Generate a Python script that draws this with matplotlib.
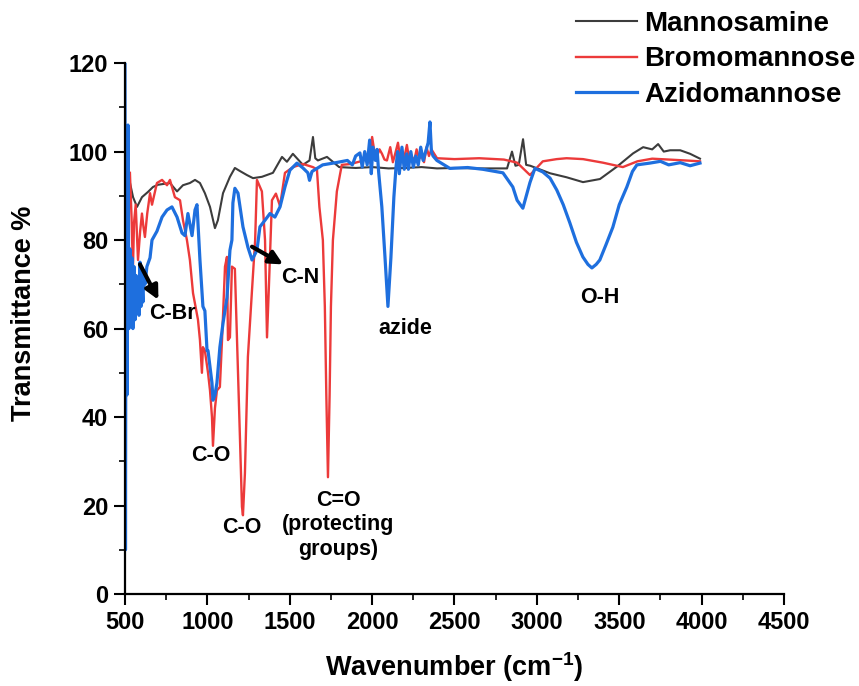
import numpy as np
import matplotlib.pyplot as plt
from matplotlib.ticker import MultipleLocator

plt.rcParams['font.family'] = ['Liberation Sans', 'DejaVu Sans']
plt.rcParams['font.weight'] = 'bold'
plt.rcParams['mathtext.fontset'] = 'custom'
plt.rcParams['mathtext.rm'] = 'Liberation Sans:bold'
plt.rcParams['mathtext.it'] = 'Liberation Sans:bold'
plt.rcParams['mathtext.default'] = 'regular'

# Mannosamine (grey)
mannosamine_wn = [530, 549, 573, 603, 640, 670, 700, 773, 816, 852, 894, 925, 955, 985,
                  1016, 1046, 1064, 1095, 1137, 1167, 1198, 1240, 1277, 1331, 1398, 1453,
                  1483, 1519, 1580, 1620, 1641, 1655, 1671, 1726, 1800, 1900, 2000, 2100,
                  2200, 2300, 2394, 2500, 2650, 2819, 2849, 2870, 2890, 2916, 2935, 2960,
                  3080, 3180, 3280, 3383, 3486, 3584, 3645, 3700, 3736, 3770, 3809, 3870,
                  3930, 3990]
mannosamine_T = [93, 89.7, 87.5, 89.7, 90.9, 92, 92.5, 92.9, 91, 92.4, 92.9, 93.6, 92.9, 90.6,
                 87.5, 82.7, 84.5, 90.6, 94.3, 96.3, 95.6, 94.7, 94, 94.3, 95.2, 98.8,
                 97.7, 99.5, 97, 98, 103.3, 98.5, 98, 98.8, 96.5, 96.3, 96.5, 96.2,
                 96.3, 96.5, 96.2, 96.3, 96.2, 96.2, 100, 96.8, 97, 102.8, 97, 96.8,
                 95.1, 94.2, 93.1, 93.8, 96.6, 99.6, 101, 100.5, 101.7, 100, 100.3, 100.3,
                 99.5, 98.4]

# Bromomannose (red)
bromo_wn = [530, 540, 548, 555, 565, 579, 592, 603, 612, 621, 635, 652, 664, 694, 725, 755,
            773, 803, 834, 852, 876, 894, 913, 943, 955, 967, 973, 985, 1004, 1016, 1028,
            1034, 1046, 1058, 1076, 1089, 1107, 1119, 1125, 1137, 1149, 1167, 1186, 1198,
            1210, 1216, 1228, 1246, 1271, 1290, 1301, 1331, 1350, 1362, 1374, 1392, 1416,
            1441, 1471, 1520, 1580, 1640, 1665, 1680, 1701, 1713, 1722, 1732, 1742, 1750,
            1762, 1786, 1816, 1870, 1930, 1950, 1968, 1985, 2000, 2015, 2030, 2045, 2060,
            2075, 2090, 2110, 2126, 2140, 2157, 2170, 2181, 2195, 2211, 2225, 2240, 2255,
            2270, 2285, 2300, 2315, 2330, 2345, 2360, 2394, 2500, 2650, 2800, 2880, 2958,
            3036, 3120, 3180, 3280, 3400, 3522, 3610, 3700, 3800, 3900, 3990]
bromo_T = [95.2, 85, 73, 84, 88, 75.5, 82, 86, 83, 80.7, 86, 90.6, 88, 92.9, 93.6, 92.4,
           93.6, 89.7, 89, 84.5, 80, 75.5, 68, 62, 57.4, 50, 55.8, 55, 50, 46, 40,
           33.5, 42, 46, 46.8, 57.4, 74, 76.2, 57.4, 58, 74, 73.5, 50, 35,
           19.7, 17.8, 27.3, 53.6, 68.7, 80, 93.6, 91, 80, 58, 70, 89, 90.5,
           87.7, 95.2, 96.5, 97.2, 96.5, 96, 87.5, 80, 65, 45, 26.4, 45, 65,
           80, 91, 97, 97.2, 97.8, 98.6, 99, 97.5, 103.3, 99.7, 99, 100.5, 99.5,
           98.2, 98, 101, 97.6, 99.5, 102, 98.5, 100, 98.6, 101.5, 98.2, 99, 97.8,
           100.5, 98.4, 99, 97.6, 101, 99, 100.5, 98.5, 98.3, 98.5, 98.2, 97.5, 94.7,
           97.8, 98.3, 98.5, 98.3, 97.5, 96.5, 97.8, 98.4, 98.2, 98, 97.8]

# Azidomannose (blue)
azido_wn = [500, 503, 507, 512, 518, 524, 530, 536, 542, 548, 555, 561, 567, 573, 579, 585,
            591, 597, 603, 609, 615, 621, 633, 652, 664, 694, 725, 755, 785, 816, 846, 864,
            882, 907, 925, 937, 955, 967, 973, 985, 998, 1004, 1028, 1034, 1046, 1058,
            1076, 1095, 1119, 1137, 1149, 1155, 1167, 1186, 1216, 1246, 1271, 1301, 1319,
            1350, 1380, 1410, 1441, 1471, 1501, 1544, 1580, 1610, 1620, 1635, 1700, 1780,
            1850, 1880, 1900, 1926, 1940, 1955, 1970, 1985, 1995, 2005, 2020, 2030, 2040,
            2059, 2078, 2096, 2114, 2132, 2145, 2155, 2165, 2181, 2195, 2210, 2220, 2235,
            2250, 2265, 2280, 2295, 2310, 2325, 2340, 2351, 2360, 2370, 2393, 2472, 2580,
            2672, 2794, 2854, 2880, 2915, 2958, 2988, 3036, 3080, 3121, 3160, 3200, 3240,
            3279, 3310, 3334, 3360, 3382, 3420, 3461, 3500, 3546, 3580, 3607, 3686, 3750,
            3800, 3870, 3930, 3990]
azido_T = [120, 10, 105, 45, 106, 60, 78, 62, 76, 60, 74, 62, 72, 64, 70, 63,
           75, 65, 70, 66, 73, 70, 74, 76, 80, 82, 85.2, 86.8, 87.5, 85.2, 81.6, 81,
           86, 81, 86.8, 88, 75.5, 68.7, 65, 64, 55, 55, 47.7, 43.8, 45, 47.7,
           55.8, 61.2, 67, 77.7, 80, 88.4, 91.7, 90.6, 83, 78.4, 75.5, 77.7, 83,
           84.5, 86, 85.2, 87.5, 92, 95.8, 97.4, 96.3, 95.2, 93.5, 95.5, 97, 97.5,
           98, 97, 99, 99.7, 96.5, 100, 97, 102.6, 95, 101, 98, 100.5, 95.2,
           87.5, 76.2, 65, 76, 89.7, 96.5, 100, 95, 101, 96, 99.5, 96, 100,
           96.5, 99, 97, 101, 98, 100, 102, 106.7, 100, 99, 98, 96.2, 96.4,
           96, 95.2, 92, 89, 87.2, 93, 96.2, 95.4, 94, 91.3, 88, 83.9, 79.5,
           76.2, 74.5, 73.7, 74.5, 75.5, 79, 82.9, 88, 92, 95.5, 97, 97.4, 97.8,
           97, 97.5, 96.8, 97.4]

fig = plt.figure(figsize=(8.59, 6.86), dpi=100)
ax = fig.add_axes([0.1455, 0.1341, 0.7672, 0.7739])

ax.plot(mannosamine_wn, mannosamine_T, color='#3c3c3c', lw=1.5, label='Mannosamine')
ax.plot(bromo_wn, bromo_T, color='#ec3a3a', lw=1.7, label='Bromomannose')
ax.plot(azido_wn, azido_T, color='#1e6fde', lw=2.3, label='Azidomannose')

ax.set_xlim(500, 4500)
ax.set_ylim(0, 120)
ax.xaxis.set_major_locator(MultipleLocator(500))
ax.xaxis.set_minor_locator(MultipleLocator(250))
ax.yaxis.set_major_locator(MultipleLocator(20))
ax.yaxis.set_minor_locator(MultipleLocator(10))
for s in ['top', 'right']:
    ax.spines[s].set_visible(False)
for s in ['left', 'bottom']:
    ax.spines[s].set_linewidth(1.6)
ax.tick_params(which='major', direction='out', length=8, width=1.5, labelsize=17, pad=4)
ax.tick_params(which='minor', direction='out', length=4.5, width=1.2)
for lab in ax.get_xticklabels() + ax.get_yticklabels():
    lab.set_fontweight('bold')

ax.set_xlabel('Wavenumber (cm$^{-1}$)', fontsize=19.5, fontweight='bold', labelpad=12)
ax.set_ylabel('Transmittance %', fontsize=19.5, fontweight='bold')
ax.yaxis.set_label_coords(-0.134, 0.529)

# peak labels
arrow = dict(arrowstyle='-|>', lw=3, color='black', mutation_scale=20,
             shrinkA=0, shrinkB=0)
ax.annotate('', xy=(703, 66.5), xytext=(591, 74.5), arrowprops=arrow)
ax.annotate('', xy=(1460, 74.5), xytext=(1271, 78.5), arrowprops=arrow)
fs = 15.5
ax.text(791, 63.5, 'C-Br', fontsize=fs, fontweight='bold', ha='center', va='center')
ax.text(1562, 71.6, 'C-N', fontsize=fs, fontweight='bold', ha='center', va='center')
ax.text(1022, 31.2, 'C-O', fontsize=fs, fontweight='bold', ha='center', va='center')
ax.text(1210, 15.0, 'C-O', fontsize=fs, fontweight='bold', ha='center', va='center')
ax.text(1793, 15.6, 'C=O\n(protecting\ngroups)', fontsize=fs, fontweight='bold',
        ha='center', va='center', linespacing=1.2)
ax.text(2199, 60.1, 'azide', fontsize=fs, fontweight='bold', ha='center', va='center')
ax.text(3382, 67.1, 'O-H', fontsize=fs, fontweight='bold', ha='center', va='center')

leg = fig.legend(loc='upper right', bbox_to_anchor=(1.015, 1.008), frameon=False,
                 fontsize=20, handlelength=2.2, handletextpad=0.25, labelspacing=0.33,
                 borderaxespad=0.2)
for t in leg.get_texts():
    t.set_fontweight('bold')

fig.savefig('out.png', dpi=100)
